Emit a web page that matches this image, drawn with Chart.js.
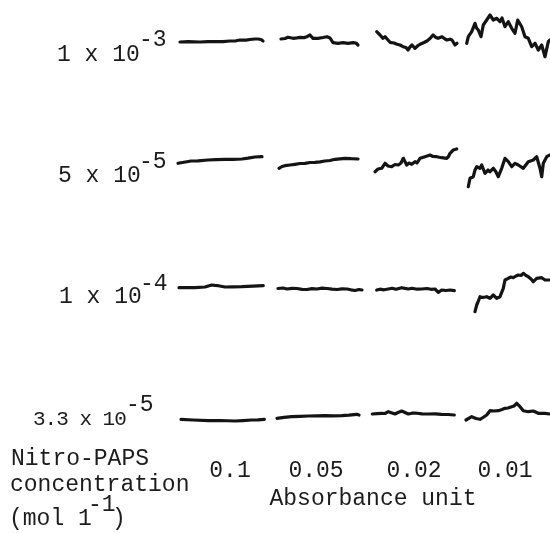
<!DOCTYPE html>
<html>
<head>
<meta charset="utf-8">
<script src="https://cdn.jsdelivr.net/npm/chart.js@4.4.0/dist/chart.umd.min.js"></script>
<style>
  html, body { margin: 0; padding: 0; background: #fff; }
  #wrap { width: 550px; height: 533px; }
</style>
</head>
<body>
<div id="wrap"><canvas id="chart" width="550" height="533"></canvas></div>
<script>
// rows = Nitro-PAPS concentration, columns = absorbance unit (as printed)
const concMantissa = ['1 x 10', '5 x 10', '1 x 10', '3.3 x 10'];
const concExponent = ['-3', '-5', '-4', '-5'];
const absorbanceUnits = ['0.1', '0.05', '0.02', '0.01'];

// each trace: [time offset, deflection (up)], one list per absorbance column
const trace1e3 = [
  [[2,0],[10,0.3],[22,0],[30,0.4],[37,0.5],[45,0.3],[52,1],[58,1.2],[62,2],[68,1.8],[72,2.5],[77,3],[80,3],[83,2.5],[85,1]],
  [[4,3],[8,3.5],[11,4.7],[16,3.7],[20,4.2],[23,4.7],[27,4.4],[30,5.3],[33,7],[36,3.7],[41,3.7],[46,4.5],[50,5.3],[53,4],[56,-0.7],[61,-1.3],[66,-0.7],[71,-1.3],[76,-0.7],[79,-1],[81,-3]],
  [[4.7,10.3],[8,7],[11,3.7],[13,5.3],[16,2],[18,-0.3],[22,-1],[25,-2.3],[28,-3],[31,-4.7],[34,-5.5],[36,-8],[38,-5],[40,-3],[43,-6.3],[46,-3.5],[48,-2.3],[52,-0.5],[55,1],[58,3.5],[61,7],[64,4.5],[66,3.7],[70,5.3],[73,3],[75,2],[78,2.8],[80,2],[83,-3],[85,-1.3]],
  [[0.7,-1.3],[2.3,5.3],[5.7,10.3],[9,18.7],[10.5,14],[12.3,12],[15,5.3],[17.3,17],[20.7,22],[24,27],[27.3,22],[30.7,23.7],[34,20.3],[36,24],[39,15.3],[42.3,20.3],[45.7,13.7],[49,8.7],[51.7,22],[55.7,15.3],[59,5.3],[62.3,3.7],[65.7,-4.7],[69,-1.3],[72.3,-8],[75.7,-3],[79,-14.7],[82.3,0.3],[84,2],[88,4]]
];
const trace5e5 = [
  [[0,-3.3],[6,-2.2],[13,-1],[20,-0.8],[30,0],[38,0.3],[47,0.7],[55,0.6],[64,1],[70,1.8],[77,3],[84,3.3]],
  [[2,-8.3],[5,-6.5],[8,-5.7],[13,-5],[18,-4.3],[23,-3.5],[28,-3.3],[33,-2.5],[38,-2.3],[43,-1.8],[48,-1],[53,-0.5],[58,0.7],[63,1.2],[68,1.7],[74,1.3],[81,1]],
  [[3,-11.7],[6,-9],[9.7,-8.3],[13,-3.3],[16,-6],[19.7,-6.7],[23,-4.5],[26.3,-5],[29,-3],[31.3,1.7],[34.7,-5],[37,-3],[39.7,-4.3],[43,-1.7],[45,-3],[48,1.7],[53,3.3],[58,5],[61,3.5],[64.7,3.3],[69.7,2.3],[74.7,1.7],[76.5,3.5],[78,6.7],[81.3,10],[84.7,11]],
  [[2.3,-26.7],[4,-18.3],[7.3,-16.7],[9,-10],[10.7,-6.7],[14,-8.3],[15.7,-5],[19,-13.3],[22,-10],[24,-11.7],[27.3,-8.3],[30,-12],[32.3,-16.7],[35.7,-8.3],[39,1.7],[42.3,-1.7],[45.7,-6.7],[49,-3.3],[52.3,-5],[57.3,-8.3],[62.3,-1.7],[67.3,0],[70.7,3.3],[74,-8.3],[75.7,-16.7],[77.3,-3.3],[80.7,3.3],[84,5],[88,6]]
];
const trace1e4 = [
  [[1,0.3],[10,0.4],[17,0.3],[27,1],[33.7,3],[37,2.6],[40.3,2.3],[47,1],[55,1.2],[63.7,1.3],[75,1.8],[85.3,2.3]],
  [[1,-0.5],[6,0],[10,-1],[15,-0.3],[20,-0.5],[25,-1.3],[30,-1.5],[35,-0.6],[40,-1],[45,-0.2],[50,-0.5],[55,-1.2],[60,-1.5],[65,-0.8],[70,-1],[74,-1.8],[78,-2.5],[82,-1.5],[85,-2]],
  [[4.7,-2],[8,-1.2],[12,-1.8],[16.3,-1],[20,-0.3],[24,-1.3],[29.7,0.3],[33,-0.4],[36.3,-1],[40,-0.3],[45,-1.2],[49.7,-1],[55,-0.5],[59,-1.3],[63,-1],[66.3,-4.3],[69.7,-2],[74,-2.5],[78,-2],[82.3,-2.7]],
  [[9,-23.7],[10.7,-17],[12,-14],[14,-8.7],[17,-9.5],[20.7,-8.7],[24,-10.3],[27.3,-7],[30.7,-10.3],[34,-8.7],[37.3,-0.3],[39,8],[42.3,9.7],[45,11],[47.3,10.3],[50,12],[52.3,13],[55,12.5],[57.3,14.7],[60,12.5],[62.3,11.3],[65,9],[67.3,6.3],[70.7,9.7],[75.7,10.3],[79,8],[84,8],[88,8]]
];
const trace33e6 = [
  [[3,-0.3],[15,-1],[30.3,-1.7],[42,-1.5],[57,-2],[65,-1.6],[73.7,-1],[80,-0.8],[86.3,-0.3]],
  [[0,0.7],[7,1.6],[14.7,2.3],[23,2.6],[31.3,3],[40,3.2],[48,3.3],[56,3.1],[64.7,3.3],[72,3.8],[79.7,4.7],[82,4]],
  [[0.3,5],[5,5.3],[9.7,5.7],[13,5.5],[16.3,7.3],[20,6],[23,5],[26,6.5],[29.7,8],[33,6.5],[36.3,5],[40,5.8],[43,6],[50,5.2],[56.3,5],[63,5.2],[69.7,4.7],[76,4.5],[82.3,4]],
  [[0,-1],[5.7,2.3],[10,0.5],[14,-0.3],[17,1.5],[20.7,4],[24,8.3],[28,8],[32.3,8.3],[36,9.5],[39,10.7],[42,11],[45.7,12.3],[48,13],[50.7,15.7],[54,12.3],[57.3,8.3],[62.3,7.3],[67.3,8],[72.3,5.7],[79,5.7],[84,5],[88,5]]
];

// layout of the panel grid (chart units = page units)
const rowBase = [42, 160, 288, 419];
const colStart = [178, 277, 372, 466];
const rowLabelX = [57, 58, 59, 33];
const rowLabelY = [61, 182, 303, 425];
const rowExpX = [139, 139, 140, 126];
const rowExpY = [46, 168, 290, 411];
const colLabelX = [230, 316, 414, 505];

const traces = [trace1e3, trace5e5, trace1e4, trace33e6];
const datasets = [];
traces.forEach(function(row, r) {
  row.forEach(function(pts, c) {
    datasets.push({
      data: pts.map(function(p) { return { x: colStart[c] + p[0], y: rowBase[r] - p[1] }; }),
      borderColor: '#141414',
      borderWidth: 3.2,
      borderJoinStyle: 'round',
      borderCapStyle: 'round',
      pointRadius: 0,
      tension: 0
    });
  });
});

const MONO = '"Liberation Mono", "DejaVu Sans Mono", monospace';

const labelsPlugin = {
  id: 'figLabels',
  afterDraw: function(chart) {
    const ctx = chart.ctx;
    const xs = chart.scales.x, ys = chart.scales.y;
    ctx.save();
    ctx.fillStyle = '#1c1c1c';
    ctx.textBaseline = 'alphabetic';
    ctx.textAlign = 'left';
    concMantissa.forEach(function(txt, r) {
      if (r === 3) {
        ctx.font = '21px ' + MONO;
        ctx.letterSpacing = '-1px';
      } else {
        ctx.font = '23px ' + MONO;
        ctx.letterSpacing = '0px';
      }
      ctx.fillText(txt, xs.getPixelForValue(rowLabelX[r]), ys.getPixelForValue(rowLabelY[r]));
      ctx.letterSpacing = '0px';
      ctx.font = '23px ' + MONO;
      ctx.fillText(concExponent[r], xs.getPixelForValue(rowExpX[r]), ys.getPixelForValue(rowExpY[r]));
    });
    ctx.font = '23px ' + MONO;
    ctx.fillText('Nitro-PAPS', xs.getPixelForValue(11), ys.getPixelForValue(465));
    ctx.fillText('concentration', xs.getPixelForValue(10), ys.getPixelForValue(491));
    ctx.fillText('(mol 1', xs.getPixelForValue(9), ys.getPixelForValue(525));
    ctx.fillText('-1', xs.getPixelForValue(88), ys.getPixelForValue(511));
    ctx.fillText(')', xs.getPixelForValue(112), ys.getPixelForValue(525));
    ctx.textAlign = 'center';
    absorbanceUnits.forEach(function(txt, c) {
      ctx.fillText(txt, xs.getPixelForValue(colLabelX[c]), ys.getPixelForValue(477));
    });
    ctx.fillText('Absorbance unit', xs.getPixelForValue(373), ys.getPixelForValue(505));
    ctx.restore();
  }
};

new Chart(document.getElementById('chart'), {
  type: 'line',
  data: { datasets: datasets },
  options: {
    responsive: false,
    animation: false,
    layout: { padding: 0 },
    plugins: { legend: { display: false }, tooltip: { enabled: false } },
    scales: {
      x: { type: 'linear', min: 0, max: 550, display: false },
      y: { type: 'linear', min: 0, max: 533, reverse: true, display: false }
    }
  },
  plugins: [labelsPlugin]
});
</script>
</body>
</html>
